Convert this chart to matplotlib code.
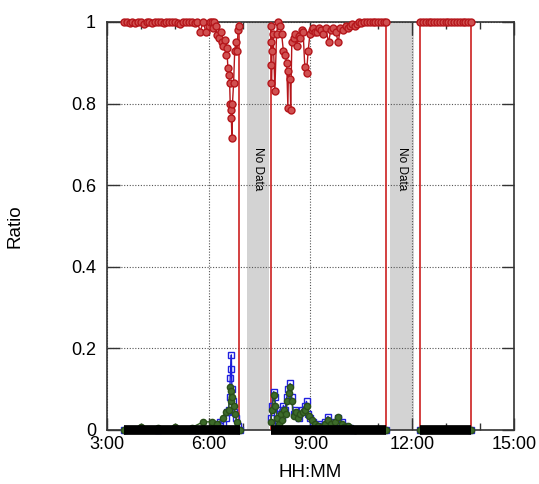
import numpy as np
from matplotlib import pyplot as plt

# segments with data (HH:MM)
seg_start = ["3:30", "7:50", "12:14"]
seg_end = ["6:55", "11:14", "13:44"]
no_data = [("7:07", "7:47"), ("11:21", "12:04")]
red_lines = ["6:54", "7:50", "11:14", "12:14", "13:44"]

# red series (ratio near 1)
red_t = ["3:30", "3:35", "3:40", "3:45", "3:50", "3:55", "4:00", "4:05", "4:10", "4:15",
         "4:20", "4:25", "4:30", "4:35", "4:40", "4:45", "4:50", "4:55", "5:00", "5:05",
         "5:10", "5:15", "5:20", "5:25", "5:30", "5:35", "5:40", "5:45", "5:50", "5:55",
         "6:00", "6:03", "6:05", "6:08", "6:10",
         "6:12", "6:15", "6:18", "6:21", "6:23", "6:26", "6:28", "6:30", "6:32", "6:34",
         "6:36", "6:37", "6:38", "6:39", "6:40", "6:41", "6:42", "6:44", "6:46", "6:48",
         "6:50", "6:52", "6:54",
         "7:50", "7:50", "7:51", "7:51", "7:52", "7:54", "7:57", "8:00", "8:03", "8:06",
         "8:09", "8:12", "8:15", "8:18", "8:20", "8:21", "8:24", "8:25", "8:27", "8:30",
         "8:33", "8:36", "8:39", "8:42", "8:45", "8:47", "8:50", "8:53", "8:56", "8:59",
         "9:02", "9:05", "9:08", "9:11", "9:15", "9:19", "9:23", "9:27", "9:32", "9:36",
         "9:40", "9:45", "9:49", "9:53", "9:58", "10:02", "10:06", "10:10", "10:14", "10:18",
         "10:22", "10:26", "10:30", "10:35", "10:40", "10:45", "10:50", "10:55", "11:00",
         "11:05", "11:10", "11:14",
         "12:14", "12:19", "12:24", "12:29", "12:34", "12:39", "12:44", "12:49", "12:54",
         "12:59", "13:04", "13:09", "13:14", "13:19", "13:24", "13:29", "13:34", "13:39",
         "13:44"]
red_v = [1.0, 1.0, 0.998, 1.0, 0.997, 1.0, 1.0, 0.995, 1.0, 1.0,
         0.997, 1.0, 1.0, 1.0, 0.997, 1.0, 1.0, 1.0, 1.0, 0.998,
         0.996, 1.0, 1.0, 1.0, 1.0, 0.997, 1.0, 0.976, 1.0, 0.976,
         0.99, 1.0, 1.0, 0.985, 1.0,
         0.99, 0.968, 0.96, 0.975, 0.95, 0.94, 0.955, 0.92, 0.935, 0.886,
         0.87, 0.85, 0.80, 0.785, 0.765, 0.716, 0.80, 0.85, 0.93, 0.95,
         0.93, 0.98, 0.99,
         0.99, 0.95, 0.895, 0.85, 0.93, 0.97, 0.83, 0.97, 1.0, 0.99,
         0.97, 0.93, 0.92, 0.90, 0.79, 0.88, 0.86, 0.785, 0.95, 0.96,
         0.97, 0.94, 0.965, 0.96, 0.98, 0.975, 0.89, 0.875, 0.93, 0.97,
         0.98, 0.985, 0.975, 0.975, 0.985, 0.98, 0.97, 0.985, 0.95, 0.98,
         0.985, 0.975, 0.95, 0.985, 0.98, 0.99, 0.985, 0.99, 0.995, 0.99,
         0.995, 1.0, 0.998, 1.0, 1.0, 1.0, 1.0, 1.0, 1.0,
         1.0, 1.0, 1.0,
         1.0, 1.0, 1.0, 1.0, 1.0, 1.0, 1.0, 1.0, 1.0,
         1.0, 1.0, 1.0, 1.0, 1.0, 1.0, 1.0, 1.0, 1.0,
         1.0]

# blue series (squares)
blue_t = ["3:30", "4:30", "5:30", "6:10", "6:15", "6:20", "6:25", "6:30", "6:33", "6:35",
          "6:37", "6:38", "6:39", "6:40", "6:41", "6:43", "6:45", "6:48", "6:52", "6:55",
          "7:50", "7:52", "7:55", "7:57", "8:00", "8:03", "8:06", "8:09", "8:12", "8:15",
          "8:18", "8:21", "8:24", "8:27", "8:30", "8:33", "8:36", "8:40", "8:45", "8:50",
          "8:53", "8:56", "9:00", "9:05", "9:10", "9:15", "9:20", "9:25", "9:31", "9:35",
          "9:40", "9:45", "9:49", "9:55", "10:00", "10:05", "10:10", "10:15", "11:14",
          "12:14", "13:44"]
blue_v = [0, 0, 0, 0, 0.01, 0.02, 0.015, 0.03, 0.045, 0.05,
          0.08, 0.127, 0.15, 0.184, 0.10, 0.07, 0.045, 0.03, 0.01, 0,
          0.03, 0.06, 0.094, 0.08, 0.04, 0.02, 0.05, 0.03, 0.06, 0.05,
          0.08, 0.10, 0.114, 0.08, 0.04, 0.05, 0.04, 0.03, 0.05, 0.06,
          0.07, 0.04, 0.03, 0.02, 0.01, 0.015, 0.01, 0.02, 0.033, 0.02,
          0.01, 0.02, 0.03, 0.02, 0.01, 0.008, 0.005, 0, 0,
          0, 0]

# green series (filled circles)
green_t = ["3:30", "4:00", "4:30", "5:00", "5:30", "5:50", "6:05", "6:15", "6:25", "6:30",
           "6:35", "6:38", "6:39", "6:40", "6:42", "6:44", "6:47", "6:50", "6:55",
           "7:50", "7:52", "7:55", "7:58", "8:01", "8:04", "8:07", "8:10", "8:13", "8:16",
           "8:19", "8:22", "8:24", "8:27", "8:30", "8:34", "8:38", "8:42", "8:46", "8:50",
           "8:54", "8:58", "9:03", "9:08", "9:14", "9:20", "9:26", "9:31", "9:37", "9:43",
           "9:49", "9:55", "10:00", "10:06", "10:12", "10:18", "11:14",
           "12:14", "13:44"]
green_v = [0, 0.008, 0.005, 0.008, 0.006, 0.02, 0.02, 0.015, 0.03, 0.045,
           0.05, 0.106, 0.095, 0.07, 0.08, 0.06, 0.04, 0.02, 0,
           0.02, 0.05, 0.085, 0.06, 0.03, 0.015, 0.04, 0.025, 0.05, 0.04,
           0.07, 0.09, 0.105, 0.07, 0.035, 0.045, 0.03, 0.04, 0.045, 0.05,
           0.06, 0.035, 0.025, 0.015, 0.01, 0.008, 0.015, 0.025, 0.015, 0.02,
           0.033, 0.015, 0.008, 0.01, 0.004, 0, 0,
           0, 0]


def hours(s):
    h, m = s.split(":")
    return int(h) + int(m) / 60.0


def split_segments(ts, vs):
    # break lines between data segments
    x = [hours(t) for t in ts]
    out_x, out_v = [], []
    for i in range(len(x)):
        if i > 0 and x[i] - x[i - 1] > 0.5:
            out_x.append(np.nan)
            out_v.append(np.nan)
        out_x.append(x[i])
        out_v.append(vs[i])
    return out_x, out_v


plt.rcParams['font.family'] = ['Liberation Sans', 'DejaVu Sans']
fig = plt.figure(figsize=(5.39, 4.84), dpi=100)
ax = fig.add_axes([0.1985, 0.1116, 0.755, 0.843])

for a, b in no_data:
    ax.axvspan(hours(a), hours(b), color='#d3d3d3', lw=0, zorder=1)
    ax.text((hours(a) + hours(b)) / 2, 0.64, "No Data", rotation=270,
            ha='center', va='center', fontsize=8.5, zorder=2)

for t in red_lines:
    ax.axvline(hours(t), color='#cc2020', lw=1.2, zorder=3)

for a, b in zip(seg_start, seg_end):
    ax.plot([hours(a), hours(b)], [0, 0], color='black', lw=7,
            solid_capstyle='butt', clip_on=False, zorder=6)

gx, gv = split_segments(green_t, green_v)
ax.plot(gx, gv, color='#2e5e1e', lw=1, marker='o', ms=4.5, mfc='#3d6b2a',
        mec='#2a4f1a', zorder=5, clip_on=False)
bx, bv = split_segments(blue_t, blue_v)
ax.plot(bx, bv, color='#1a1ad6', lw=1, marker='s', ms=4, mfc='none',
        mec='#2020e0', mew=1, zorder=4, clip_on=False)
rx, rv = split_segments(red_t, red_v)
ax.plot(rx, rv, color='#b5161b', lw=1, marker='o', ms=5, mfc='#d05050',
        mec='#b5161b', mew=1, zorder=5, clip_on=False)

ax.set_xlim(3, 15)
ax.set_ylim(0, 1)
ax.set_xticks([3, 6, 9, 12, 15])
ax.set_xticklabels(["3:00", "6:00", "9:00", "12:00", "15:00"])
ax.set_xticks(np.arange(3, 16, 1), minor=True)
ax.set_yticks([0, 0.2, 0.4, 0.6, 0.8, 1])
ax.set_yticklabels(["0", "0.2", "0.4", "0.6", "0.8", "1"])
ax.tick_params(which='major', direction='in', length=9, width=1, top=True,
               right=True, labelsize=13, color='#333333', pad=4)
ax.tick_params(axis='y', pad=8)
ax.tick_params(which='minor', direction='in', length=5, width=1, top=True,
               right=True, color='#333333')
ax.grid(True, linestyle=(0, (1, 1.5)), color='#555555', lw=0.8)
for s in ax.spines.values():
    s.set_color('#333333')
    s.set_linewidth(1.2)

ax.set_xlabel("HH:MM", fontsize=13.5, labelpad=8)
ax.set_ylabel("Ratio", fontsize=13.5, labelpad=34)

plt.savefig("out.png", dpi=100)
